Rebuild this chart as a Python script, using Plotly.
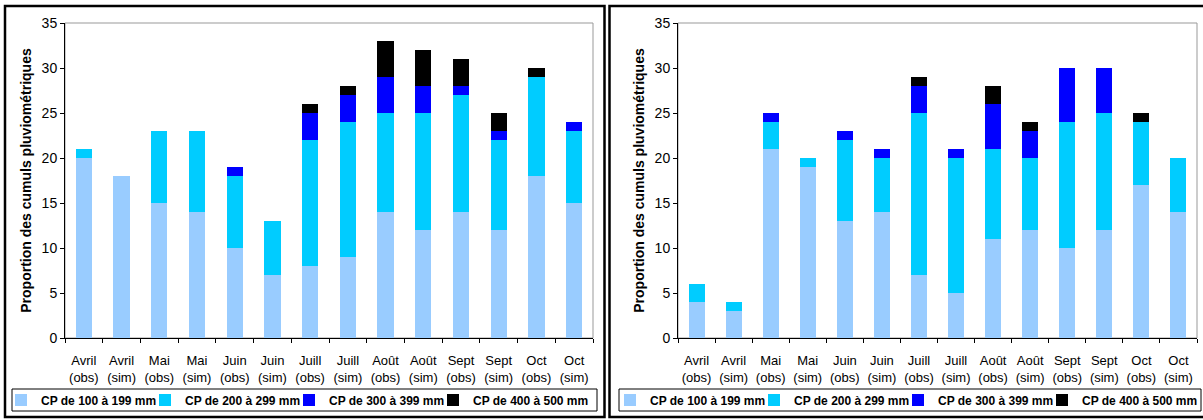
import plotly.graph_objects as go

W, H = 1203, 420

categories = ["Avril<br>(obs)", "Avril<br>(sim)", "Mai<br>(obs)", "Mai<br>(sim)",
              "Juin<br>(obs)", "Juin<br>(sim)", "Juill<br>(obs)", "Juill<br>(sim)",
              "Août<br>(obs)", "Août<br>(sim)", "Sept<br>(obs)", "Sept<br>(sim)",
              "Oct<br>(obs)", "Oct<br>(sim)"]

series_names = ["CP de 100 à 199 mm", "CP de 200 à 299 mm",
                "CP de 300 à 399 mm", "CP de 400 à 500 mm"]

# Left panel
cp100_left = [20, 18, 15, 14, 10, 7, 8, 9, 14, 12, 14, 12, 18, 15]
cp200_left = [1, 0, 8, 9, 8, 6, 14, 15, 11, 13, 13, 10, 11, 8]
cp300_left = [0, 0, 0, 0, 1, 0, 3, 3, 4, 3, 1, 1, 0, 1]
cp400_left = [0, 0, 0, 0, 0, 0, 1, 1, 4, 4, 3, 2, 1, 0]

# Right panel
cp100_right = [4, 3, 21, 19, 13, 14, 7, 5, 11, 12, 10, 12, 17, 14]
cp200_right = [2, 1, 3, 1, 9, 6, 18, 15, 10, 8, 14, 13, 7, 6]
cp300_right = [0, 0, 1, 0, 1, 1, 3, 1, 5, 3, 6, 5, 0, 0]
cp400_right = [0, 0, 0, 0, 0, 0, 1, 0, 2, 1, 0, 0, 1, 0]

colors = ["#99CCFF", "#00CCFF", "#0000FF", "#000000"]
y_title = "Proportion des cumuls pluviométriques"
FONT = "Liberation Sans, Arial, sans-serif"


def px(x):
    return x / W


def py(y):
    return 1 - y / H


fig = go.Figure()

left = [cp100_left, cp200_left, cp300_left, cp400_left]
right = [cp100_right, cp200_right, cp300_right, cp400_right]

for i, (name, vals, col) in enumerate(zip(series_names, left, colors)):
    fig.add_trace(go.Bar(x=categories, y=vals, name=name, marker_color=col,
                         marker_line_width=0, xaxis="x", yaxis="y",
                         legend="legend",
                         legendwidth=122 if i == 3 else None))
for i, (name, vals, col) in enumerate(zip(series_names, right, colors)):
    fig.add_trace(go.Bar(x=categories, y=vals, name=name, marker_color=col,
                         marker_line_width=0, xaxis="x2", yaxis="y2",
                         legend="legend2",
                         legendwidth=122 if i == 3 else None))

ydom = [py(338), py(23)]
xcommon = dict(showline=True, linecolor="black", linewidth=1, ticks="outside",
               ticklen=4, tickcolor="black", tickson="boundaries", tickangle=0,
               tickfont=dict(size=13, color="black", family=FONT),
               showgrid=False, automargin=False, ticklabelstandoff=10)
ycommon = dict(range=[0, 35], dtick=5, showline=True, linecolor="black",
               linewidth=1, ticks="outside", ticklen=4, tickcolor="black",
               tickfont=dict(size=14, color="black", family=FONT),
               showgrid=False, zeroline=False, automargin=False,
               title=dict(text=y_title, standoff=6,
                          font=dict(size=14, color="black", family=FONT,
                                    weight="bold")))

legcommon = dict(orientation="h", yanchor="middle", y=py(400), xanchor="left",
                 bgcolor="rgba(0,0,0,0)", borderwidth=0, entrywidth=99,
                 entrywidthmode="pixels", traceorder="normal",
                 font=dict(size=12, color="black", family=FONT, weight="bold"))

fig.update_layout(
    width=W, height=H,
    margin=dict(l=0, r=0, t=0, b=0, autoexpand=False),
    paper_bgcolor="white", plot_bgcolor="white",
    barmode="stack", bargap=0.57,
    font=dict(family=FONT, color="black"),
    xaxis=dict(domain=[px(65), px(593)], anchor="y", **xcommon),
    yaxis=dict(domain=ydom, anchor="x", **ycommon),
    xaxis2=dict(domain=[px(678), px(1197)], anchor="y2", **xcommon),
    yaxis2=dict(domain=ydom, anchor="x2", **ycommon),
    legend=dict(x=px(1), **legcommon),
    legend2=dict(x=px(610), **legcommon),
)

shapes = []
# plot-area frames (grey top/right border)
for xr, yr in [("x domain", "y domain"), ("x2 domain", "y2 domain")]:
    shapes.append(dict(type="rect", xref=xr, yref=yr, x0=0, x1=1, y0=0, y1=1,
                       line=dict(color="#999999", width=1), layer="below"))
# legend boxes
shapes.append(dict(type="rect", xref="paper", yref="paper", x0=px(12), x1=px(597),
                   y0=py(411), y1=py(389), line=dict(color="black", width=1)))
shapes.append(dict(type="rect", xref="paper", yref="paper", x0=px(619), x1=px(1201),
                   y0=py(411), y1=py(389), line=dict(color="black", width=1)))
# outer panel borders
shapes.append(dict(type="rect", xref="paper", yref="paper", x0=px(5), x1=px(604.5),
                   y0=py(417), y1=py(6), line=dict(color="black", width=2.5)))
shapes.append(dict(type="rect", xref="paper", yref="paper", x0=px(609.5), x1=px(1210),
                   y0=py(417), y1=py(6), line=dict(color="black", width=2.5)))
fig.update_layout(shapes=shapes)

fig.write_html("out.html",
               config={"displayModeBar": False},
               post_script="document.body.style.margin='0';"
                           "document.body.style.overflow='hidden';")
